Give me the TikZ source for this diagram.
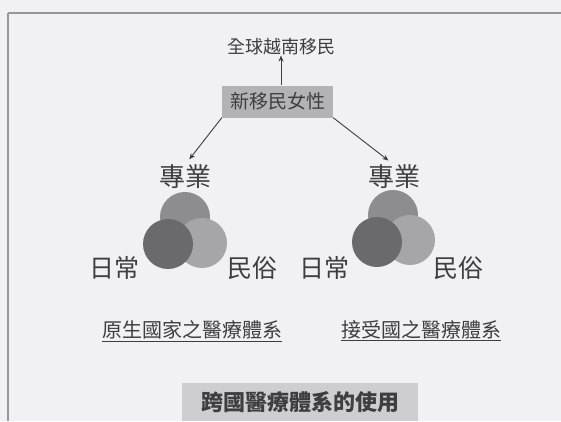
\documentclass[tikz,border=0pt]{standalone}
\usepackage{fontspec}
\newfontfamily\cjk{Noto Sans CJK TC}
\usetikzlibrary{arrows.meta}
\definecolor{bg}{RGB}{241,241,245}
\definecolor{ink}{RGB}{62,62,66}
\definecolor{frame}{RGB}{150,150,155}
\definecolor{boxfill}{RGB}{178,178,183}
\definecolor{boxfillb}{RGB}{205,205,210}
\definecolor{ctop}{RGB}{140,140,145}
\definecolor{cright}{RGB}{165,165,170}
\definecolor{cdark}{RGB}{105,105,110}
\begin{document}
\begin{tikzpicture}[x=1pt,y=-1pt,
  txt/.style={text=ink,inner sep=0pt,font=\cjk},
  arr/.style={draw=ink,line width=0.9pt,-{Stealth[length=6pt,width=5pt]}},
  circ/.style={circle,minimum size=50pt,inner sep=0pt,draw=none}]
\fill[bg] (0,0) rectangle (561,421);
\useasboundingbox (0,0) rectangle (561,421);
% frame
\draw[frame,line width=2.5pt] (8,13) -- (561,13);
\draw[frame,line width=2.5pt] (8,13) -- (8,421);
% top
\node[txt,font=\cjk\fontsize{18}{18}\selectfont] (global) at (281,47) {全球越南移民};
\node[txt,fill=boxfill,minimum width=111pt,minimum height=32pt,font=\cjk\fontsize{19}{19}\selectfont] (nw) at (277.5,101.5) {新移民女性};
\draw[arr] (nw.north -| global) -- (global.south);
% left cluster
\node[txt,font=\cjk\fontsize{26}{26}\selectfont] (zl) at (185,177) {專業};
\node[circ,fill=ctop] (tl) at (185,217) {};
\node[circ,fill=cright] (rl) at (202,243) {};
\node[circ,fill=cdark] (dl) at (168,244) {};
\node[txt,font=\cjk\fontsize{25}{25}\selectfont] (rcl) at (114,268) {日常};
\node[txt,font=\cjk\fontsize{25}{25}\selectfont] (mul) at (252,268) {民俗};
% right cluster
\node[txt,font=\cjk\fontsize{26}{26}\selectfont] (zr) at (394,177) {專業};
\node[circ,fill=ctop] (tr) at (393,215) {};
\node[circ,fill=cright] (rr) at (410,240) {};
\node[circ,fill=cdark] (dr) at (377,242) {};
\node[txt,font=\cjk\fontsize{25}{25}\selectfont] (rcr) at (324,268) {日常};
\node[txt,font=\cjk\fontsize{25}{25}\selectfont] (mur) at (458,268) {民俗};
% arrows
\draw[arr,shorten >=7pt] (nw.south west) -- (zl.north);
\draw[arr,shorten >=7pt] (nw.south east) -- (zr.north);
% systems
\node[txt,font=\cjk\fontsize{20}{20}\selectfont] (origin) at (192,331) {\underline{原生國家之醫療體系}};
\node[txt,font=\cjk\fontsize{20}{20}\selectfont] (host) at (421,331) {\underline{接受國之醫療體系}};
% bottom
\node[txt,fill=boxfillb,minimum width=236pt,minimum height=38pt,font=\cjk\bfseries\fontsize{22}{22}\selectfont] (use) at (300,402) {跨國醫療體系的使用};
\end{tikzpicture}
\end{document}
